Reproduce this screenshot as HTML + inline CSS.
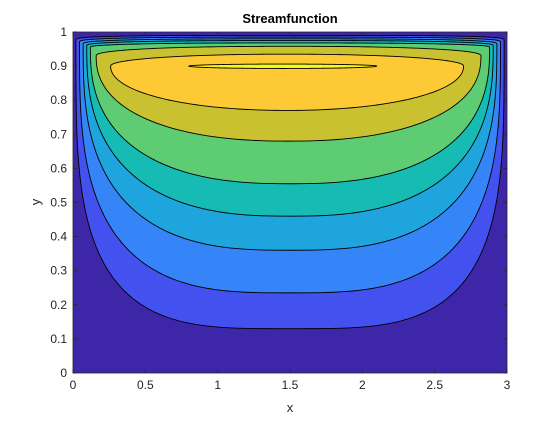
<!DOCTYPE html>
<html><head><meta charset="utf-8"><style>
body{margin:0;background:#fff;width:560px;height:420px;overflow:hidden}
svg text{font-family:"Liberation Sans",Arial,sans-serif;fill:#262626}
</style></head><body>
<svg id="chart" width="560" height="420" xmlns="http://www.w3.org/2000/svg">
<text x="290" y="23" text-anchor="middle" font-size="13" font-weight="bold" style="fill:#000">Streamfunction</text>
<text x="290" y="412" text-anchor="middle" font-size="13">x</text>
<text transform="translate(40,202) rotate(-90)" text-anchor="middle" font-size="13">y</text>
<g id="plot"></g><g id="axes"></g>
</svg>
<script>
// contour level shapes (data units): bottom y at center, corner y, top y, half width, center x, exponent
const levelBottom = [0.13, 0.235, 0.36, 0.46, 0.555, 0.68, 0.77, 0.893];
const levelCorner = [0.975, 0.97, 0.965, 0.96, 0.955, 0.93, 0.9, 0.9];
const levelTop    = [0.99, 0.985, 0.98, 0.975, 0.968, 0.958, 0.935, 0.906];
const levelHalfW  = [1.48, 1.455, 1.43, 1.405, 1.38, 1.33, 1.22, 0.65];
const levelCenter = [1.5, 1.5, 1.5, 1.5, 1.5, 1.49, 1.48, 1.45];
const levelExp    = [3.6, 3.1, 2.8, 2.6, 2.5, 2.3, 2.1, 2.0];
const levelColors = ['#4351ee','#3585f8','#1fa5dd','#16bbb4','#5ecc72','#c9c12f','#fdca36','#f6fa14'];
const bgColor = '#3e26a8';
const xTicks = [0,0.5,1,1.5,2,2.5,3];
const xTickLabels = ['0','0.5','1','1.5','2','2.5','3'];
const yTicks = [0,0.1,0.2,0.3,0.4,0.5,0.6,0.7,0.8,0.9,1];
const yTickLabels = ['0','0.1','0.2','0.3','0.4','0.5','0.6','0.7','0.8','0.9','1'];

const L=73,R=507,T=32,B=373;
const sx=v=>L+(v-0)/(3-0)*(R-L);
const sy=v=>B-(v-0)/(1-0)*(B-T);
const NS='http://www.w3.org/2000/svg';
const plot=document.getElementById('plot'), axes=document.getElementById('axes');

const bg=document.createElementNS(NS,'rect');


bg.setAttribute('x',L);bg.setAttribute('y',T);bg.setAttribute('width',R-L);bg.setAttribute('height',B-T);bg.setAttribute('fill',bgColor);
plot.appendChild(bg);

function shapePath(i){
  const a=levelHalfW[i],c=levelCenter[i],p=levelExp[i],yc=levelCorner[i],b=levelBottom[i],t=levelTop[i];
  const pts=[];const N=120;
  for(let k=0;k<=N;k++){
    const th=Math.PI+Math.PI*k/N;
    const ct=Math.cos(th),st=Math.sin(th);
    const u=Math.sign(ct)*Math.pow(Math.abs(ct),2/p), v=Math.sign(st)*Math.pow(Math.abs(st),2/p);
    pts.push([c+a*u, yc+(yc-b)*v]);
  }
  for(let k=1;k<N;k++){
    const th=Math.PI*k/N;
    const ct=Math.cos(th),st=Math.sin(th);
    const u=Math.sign(ct)*Math.pow(Math.abs(ct),2/p), v=Math.pow(Math.abs(st),2/p);
    pts.push([c+a*u, yc+(t-yc)*v]);
  }
  return 'M'+pts.map(q=>sx(q[0]).toFixed(2)+','+sy(q[1]).toFixed(2)).join('L')+'Z';
}
for(let i=0;i<levelBottom.length;i++){
  const path=document.createElementNS(NS,'path');
  
  
  path.setAttribute('d',shapePath(i));
  path.setAttribute('fill',levelColors[i]);path.setAttribute('stroke','#000');path.setAttribute('stroke-width','0.9');
  plot.appendChild(path);
}
const box=document.createElementNS(NS,'rect');


box.setAttribute('x',L);box.setAttribute('y',T);box.setAttribute('width',R-L);box.setAttribute('height',B-T);
box.setAttribute('fill','none');box.setAttribute('stroke','#262626');box.setAttribute('stroke-width','0.8');
axes.appendChild(box);
function line(x1,y1,x2,y2){const l=document.createElementNS(NS,'line');l.setAttribute('x1',x1);l.setAttribute('y1',y1);l.setAttribute('x2',x2);l.setAttribute('y2',y2);l.setAttribute('stroke','#262626');l.setAttribute('stroke-width','0.8');return l;}
xTicks.forEach((v,i)=>{
  const x=sx(v);
  const t1=line(x,B,x,B-4);
  
  
  axes.appendChild(t1);
  const t2=line(x,T,x,T+4);
  
  
  axes.appendChild(t2);
  const tx=document.createElementNS(NS,'text');
  
  
  tx.setAttribute('x',x);tx.setAttribute('y',B+16);tx.setAttribute('text-anchor','middle');tx.setAttribute('font-size','12');
  tx.textContent=xTickLabels[i];axes.appendChild(tx);
});
yTicks.forEach((v,i)=>{
  const y=sy(v);
  const t1=line(L,y,L+4,y);
  
  
  axes.appendChild(t1);
  const t2=line(R,y,R-4,y);
  
  
  axes.appendChild(t2);
  const tx=document.createElementNS(NS,'text');
  
  
  tx.setAttribute('x',L-6);tx.setAttribute('y',y+4);tx.setAttribute('text-anchor','end');tx.setAttribute('font-size','12');
  tx.textContent=yTickLabels[i];axes.appendChild(tx);
});
</script>
</body></html>
